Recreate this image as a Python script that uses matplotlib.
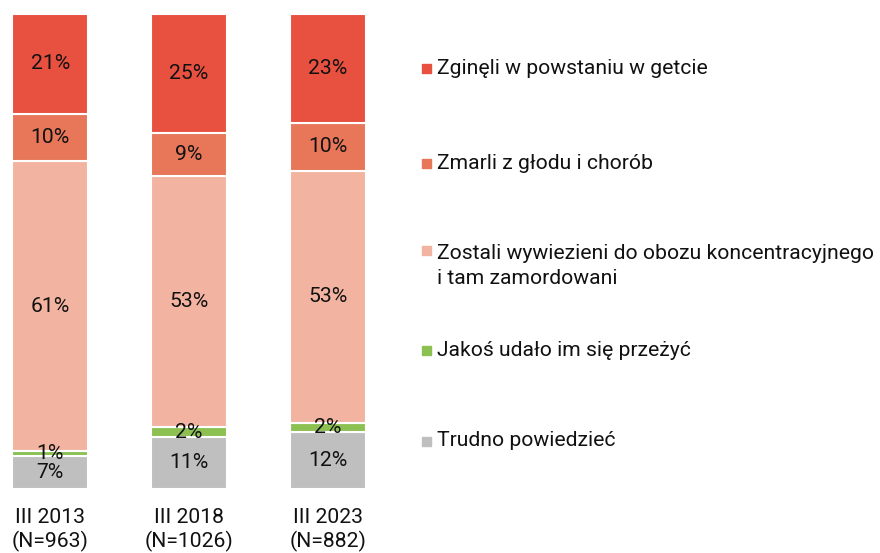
import numpy as np
from matplotlib import pyplot as plt
from matplotlib.patches import Rectangle

plt.rcParams['font.family'] = ['Roboto', 'DejaVu Sans']

#%% data
periods = ['III 2013\n(N=963)', 'III 2018\n(N=1026)', 'III 2023\n(N=882)']
labels = ['Trudno powiedzieć',
          'Jakoś udało im się przeżyć',
          'Zostali wywiezieni do obozu koncentracyjnego\ni tam zamordowani',
          'Zmarli z głodu i chorób',
          'Zginęli w powstaniu w getcie']
trudno = [7, 11, 12]
przezyc = [1, 2, 2]
wywiezieni = [61, 53, 53]
zmarli = [10, 9, 10]
zgineli = [21, 25, 23]
series = [trudno, przezyc, wywiezieni, zmarli, zgineli]
colors = ['#bfbfbf', '#8cc152', '#f2b3a0', '#e8775a', '#e8503f']

#%% figure
W, H = 880, 553
fs = 15.2
fig = plt.figure(figsize=(W/100, H/100), dpi=100)
ax = fig.add_axes([12/W, 64/H, 354/W, 475/H])

x = np.arange(len(periods))
bottom = np.zeros(len(periods))
for vals, c in zip(series, colors):
    vals = np.array(vals)
    ax.bar(x, vals, width=0.55, bottom=bottom, color=c, edgecolor='white', linewidth=1.5)
    for xi, b, v in zip(x, bottom, vals):
        ax.text(xi, b + v/2, f'{v}%', ha='center', va='center', fontsize=fs, color='#111111')
    bottom += vals

ax.set_xlim(-0.275, 2.275)
ax.set_ylim(0, 100)
ax.set_yticks([])
ax.set_xticks(x)
ax.set_xticklabels(periods, fontsize=fs, color='#111111', linespacing=1.2)
ax.tick_params(axis='x', length=0, pad=14)
for s in ax.spines.values():
    s.set_visible(False)

#%% legend (top to bottom)
leg_y = [68, 163, 266, 350, 441]
for lab, c, yy in zip(labels[::-1], colors[::-1], leg_y):
    first_line_y = yy - 16 if '\n' in lab else yy
    fig.patches.append(Rectangle((422/W, 1 - (first_line_y + 5)/H), 9/W, 9/H,
                                 transform=fig.transFigure, color=c))
    fig.text(437/W, 1 - yy/H, lab, ha='left', va='center', fontsize=fs,
             color='#111111', linespacing=1.4)

plt.savefig('out.png', dpi=100)
